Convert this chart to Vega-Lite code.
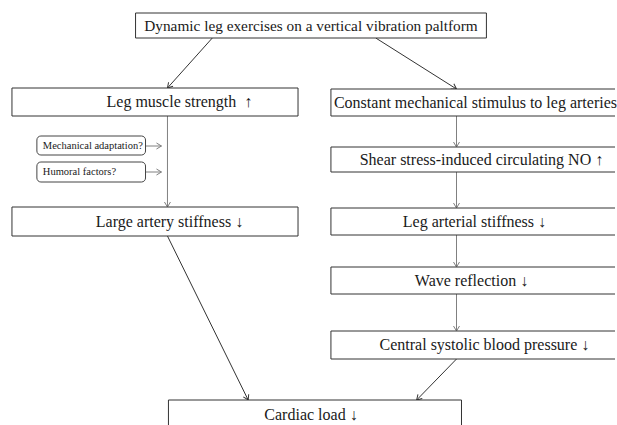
{
  "$schema": "https://vega.github.io/schema/vega-lite/v6.json",
  "width": 617,
  "height": 425,
  "autosize": {"type": "fit", "contains": "padding"},
  "padding": 0,
  "background": "white",
  "config": {"view": {"stroke": null}},
  "datasets": {
    "boxes": [
      {"id": "top", "x": 136, "x2": 488, "y": 13, "y2": 38, "label": "Dynamic leg exercises on a vertical vibration paltform", "tx": 312, "ty": 26},
      {"id": "muscle", "x": 12, "x2": 299, "y": 88, "y2": 116, "label": "Leg muscle strength \u00a0↑", "tx": 180, "ty": 102},
      {"id": "constant", "x": 332, "x2": 622, "y": 89, "y2": 116, "label": "Constant mechanical stimulus to leg arteries", "tx": 477, "ty": 103},
      {"id": "large", "x": 12, "x2": 299, "y": 207, "y2": 236, "label": "Large artery stiffness ↓", "tx": 170, "ty": 222},
      {"id": "shear", "x": 332, "x2": 622, "y": 147, "y2": 172, "label": "Shear stress-induced circulating NO ↑", "tx": 483, "ty": 160},
      {"id": "legart", "x": 332, "x2": 622, "y": 208, "y2": 235, "label": "Leg arterial stiffness ↓", "tx": 476, "ty": 222},
      {"id": "wave", "x": 332, "x2": 622, "y": 267, "y2": 294, "label": "Wave reflection ↓", "tx": 473, "ty": 281},
      {"id": "central", "x": 332, "x2": 622, "y": 331, "y2": 359, "label": "Central systolic blood pressure ↓", "tx": 486, "ty": 345},
      {"id": "cardiac", "x": 169, "x2": 463, "y": 400, "y2": 440, "label": "Cardiac load ↓", "tx": 312, "ty": 415}
    ],
    "notes": [
      {"x": 37, "x2": 146, "y": 136, "y2": 155, "label": "Mechanical adaptation?", "tx": 43, "ty": 146},
      {"x": 37, "x2": 146, "y": 162, "y2": 182, "label": "Humoral factors?", "tx": 43, "ty": 172}
    ],
    "edges": [
      {"kind": "diagonal", "x": 213, "y": 38, "x2": 168, "y2": 88, "angle": 42},
      {"kind": "diagonal", "x": 377, "y": 38, "x2": 458, "y2": 89, "angle": -58},
      {"kind": "straight", "x": 168, "y": 116, "x2": 168, "y2": 207, "angle": 0},
      {"kind": "straight", "x": 146, "y": 146, "x2": 162, "y2": 146, "angle": -90},
      {"kind": "straight", "x": 146, "y": 172, "x2": 162, "y2": 172, "angle": -90},
      {"kind": "straight", "x": 458, "y": 116, "x2": 458, "y2": 147, "angle": 0},
      {"kind": "straight", "x": 458, "y": 172, "x2": 458, "y2": 208, "angle": 0},
      {"kind": "straight", "x": 458, "y": 235, "x2": 458, "y2": 267, "angle": 0},
      {"kind": "straight", "x": 458, "y": 294, "x2": 458, "y2": 331, "angle": 0},
      {"kind": "diagonal", "x": 168, "y": 236, "x2": 249, "y2": 400, "angle": -26},
      {"kind": "diagonal", "x": 458, "y": 359, "x2": 418, "y2": 400, "angle": 44}
    ]
  },
  "resolve": {"scale": {"x": "shared", "y": "shared"}},
  "layer": [
    {
      "data": {"name": "edges"},
      "mark": {"type": "rule", "strokeWidth": 1, "clip": true},
      "encoding": {
        "x": {"field": "x", "type": "quantitative", "scale": {"domain": [0, 617], "nice": false, "zero": false}, "axis": null},
        "y": {"field": "y", "type": "quantitative", "scale": {"domain": [0, 425], "nice": false, "zero": false, "reverse": true}, "axis": null},
        "x2": {"field": "x2"},
        "y2": {"field": "y2"},
        "color": {"field": "kind", "type": "nominal", "scale": {"domain": ["diagonal", "straight"], "range": ["#333333", "#808080"]}, "legend": null}
      }
    },
    {
      "data": {"name": "edges"},
      "mark": {"type": "point", "shape": "M-0.6,-1L0,0L0.6,-1", "filled": false, "size": 100, "strokeWidth": 1, "opacity": 1},
      "encoding": {
        "x": {"field": "x2", "type": "quantitative"},
        "y": {"field": "y2", "type": "quantitative"},
        "angle": {"field": "angle", "type": "quantitative", "scale": null},
        "color": {"field": "kind", "type": "nominal", "scale": {"domain": ["diagonal", "straight"], "range": ["#333333", "#808080"]}, "legend": null}
      }
    },
    {
      "data": {"name": "boxes"},
      "mark": {"type": "rect", "fill": "white", "stroke": "#333333", "strokeWidth": 1, "clip": true},
      "encoding": {
        "x": {"field": "x", "type": "quantitative"},
        "x2": {"field": "x2"},
        "y": {"field": "y", "type": "quantitative"},
        "y2": {"field": "y2"}
      }
    },
    {
      "data": {"name": "notes"},
      "mark": {"type": "rect", "fill": "white", "stroke": "#444444", "strokeWidth": 1, "cornerRadius": 4},
      "encoding": {
        "x": {"field": "x", "type": "quantitative"},
        "x2": {"field": "x2"},
        "y": {"field": "y", "type": "quantitative"},
        "y2": {"field": "y2"}
      }
    },
    {
      "data": {"name": "boxes"},
      "transform": [{"filter": "datum.id !== 'top'"}],
      "mark": {"type": "text", "font": "'Liberation Serif', 'DejaVu Serif', serif", "fontSize": 16, "align": "center", "baseline": "middle", "color": "#1a1a1a"},
      "encoding": {
        "x": {"field": "tx", "type": "quantitative"},
        "y": {"field": "ty", "type": "quantitative"},
        "text": {"field": "label"}
      }
    },
    {
      "data": {"name": "boxes"},
      "transform": [{"filter": "datum.id === 'top'"}],
      "mark": {"type": "text", "font": "'Liberation Serif', 'DejaVu Serif', serif", "fontSize": 15.3, "align": "center", "baseline": "middle", "color": "#1a1a1a"},
      "encoding": {
        "x": {"field": "tx", "type": "quantitative"},
        "y": {"field": "ty", "type": "quantitative"},
        "text": {"field": "label"}
      }
    },
    {
      "data": {"name": "notes"},
      "mark": {"type": "text", "font": "'Liberation Serif', 'DejaVu Serif', serif", "fontSize": 10.5, "align": "left", "baseline": "middle", "color": "#1a1a1a"},
      "encoding": {
        "x": {"field": "tx", "type": "quantitative"},
        "y": {"field": "ty", "type": "quantitative"},
        "text": {"field": "label"}
      }
    }
  ]
}
